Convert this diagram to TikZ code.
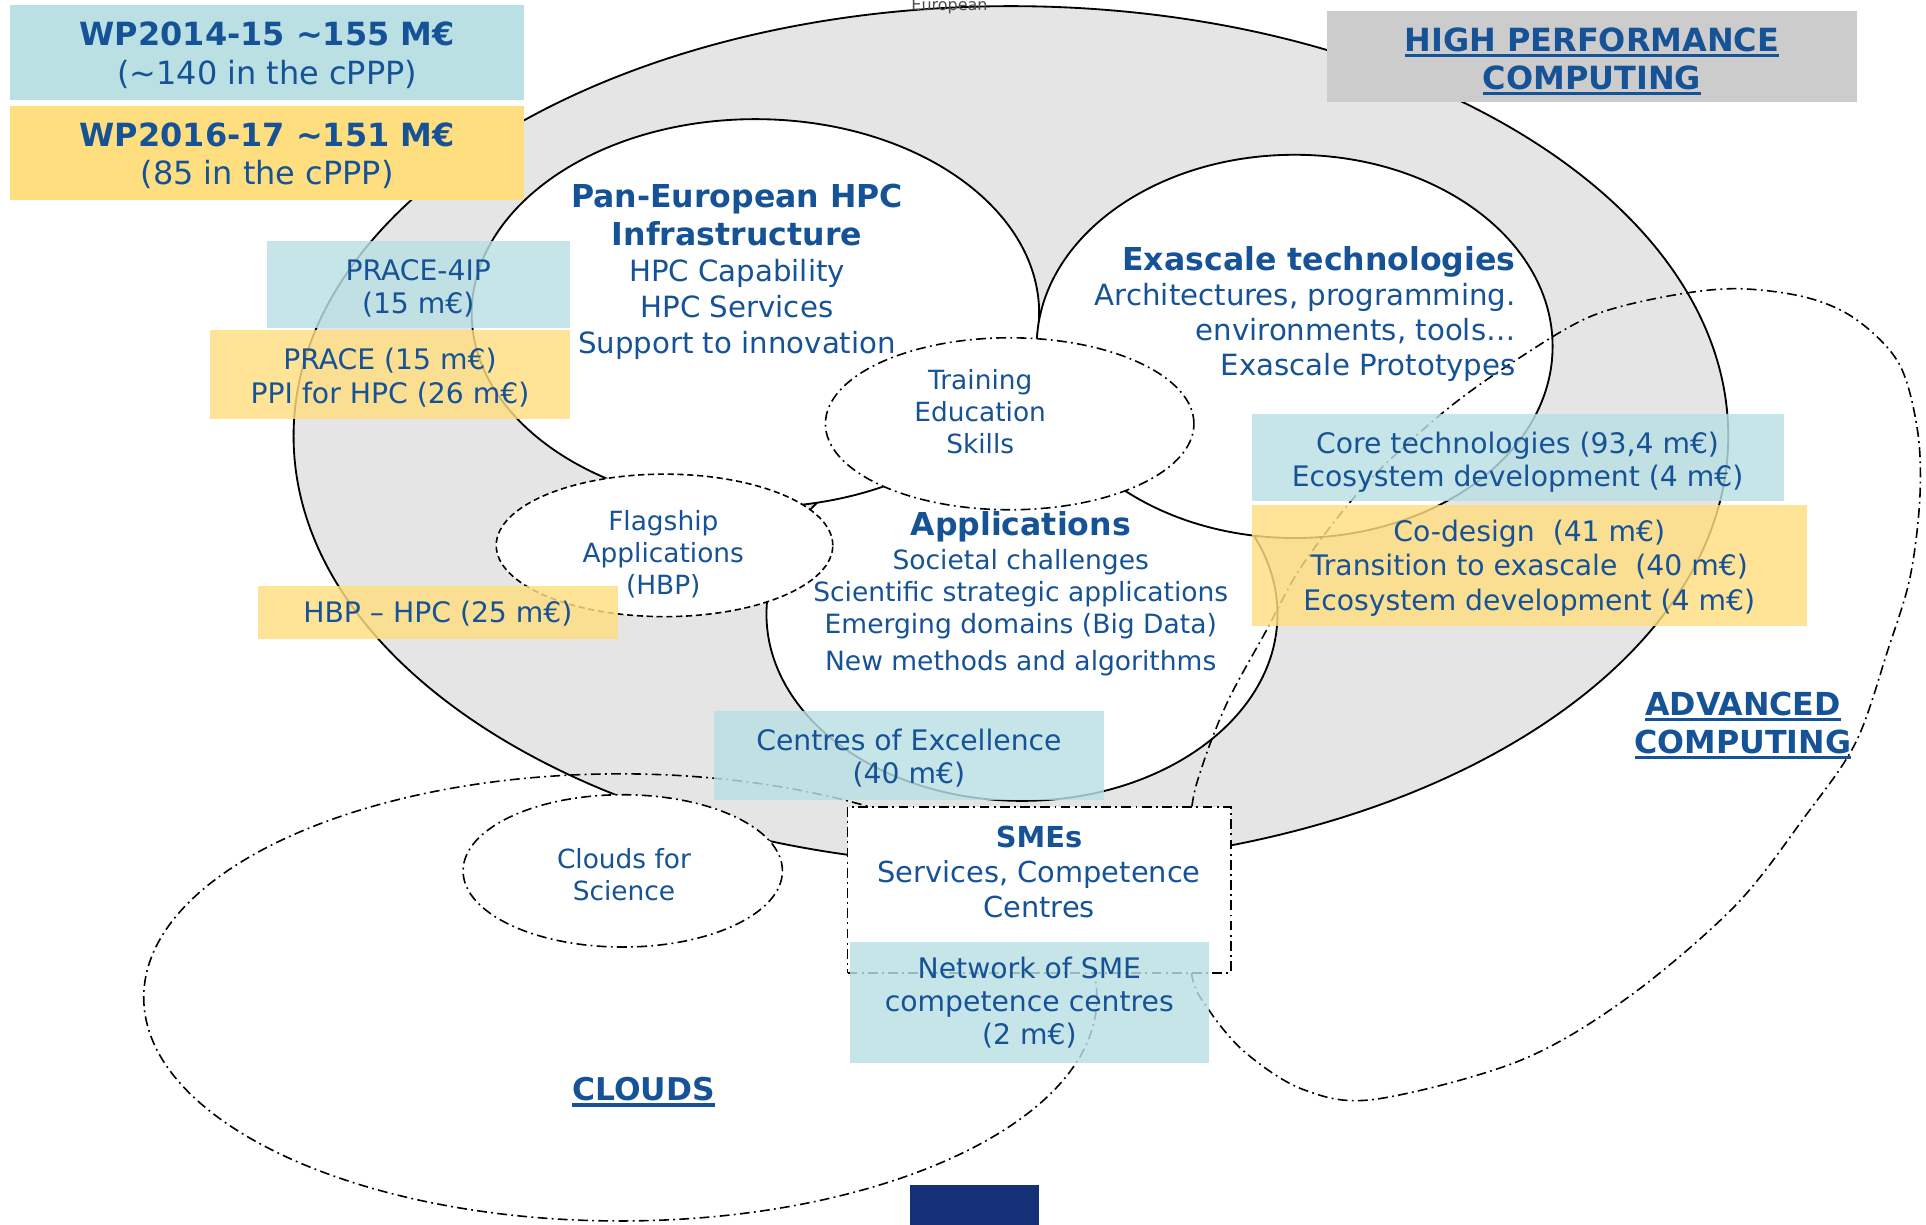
\documentclass[tikz,border=0pt]{standalone}
\usepackage{fontspec}
\setmainfont{DejaVu Sans}
\definecolor{txtblue}{RGB}{22,82,150}
\definecolor{cyanfill}{RGB}{186,224,228}
\definecolor{yellowfill}{RGB}{255,222,128}
\definecolor{hpcgray}{RGB}{229,229,229}
\definecolor{titlegray}{RGB}{204,204,204}
\definecolor{navyblock}{RGB}{20,48,118}
\newcommand{\ulin}[1]{\setbox0=\hbox{#1}\rlap{\vrule height -2pt depth 4.8pt width \wd0}\box0}

\begin{document}
\begin{tikzpicture}[x=1pt,y=-1pt,
    every node/.style={inner sep=0pt,align=center,text=txtblue},
    outline/.style={line width=1.5pt},
    ddline/.style={line width=1.3pt,dash pattern=on 8pt off 3.5pt on 1.5pt off 3.5pt},
    cyanbox/.style={fill=cyanfill},
    yellowbox/.style={fill=yellowfill},
    seethru/.style={fill opacity=0.82},
    bigbold/.style={font=\fontsize{25.7}{31}\selectfont\bfseries},
    bodytxt/.style={font=\fontsize{23.8}{29}\selectfont},
    smalltxt/.style={font=\fontsize{21.5}{26}\selectfont},
    boxtxt/.style={font=\fontsize{23}{27}\selectfont}]

          \fill[white] (0,0) rectangle (1568,997);
          \useasboundingbox (0,0) rectangle (1568,997);

          \coordinate (hpcc) at (823,355);
          \coordinate (applc) at (832,500);
          \coordinate (panc) at (615,255);
          \coordinate (exac) at (1054,282);
          \coordinate (trainc) at (822,345);
          \coordinate (flagc) at (541,444);
          \coordinate (cloudc) at (505,812);
          \coordinate (cfsc) at (507,709);

          % HPC ring and its three domains
          \draw[outline,fill=hpcgray] (hpcc) ellipse [x radius=584pt,y radius=350pt];
          \draw[outline,fill=white] (applc) ellipse [x radius=208pt,y radius=152pt];
          \draw[outline,fill=white] (panc) ellipse [x radius=231pt,y radius=158pt];
          \draw[outline,fill=white] (exac) ellipse [x radius=210pt,y radius=156pt];
          \draw[ddline,fill=white] (trainc) ellipse [x radius=150pt,y radius=70pt];
          \draw[line width=1.3pt,dash pattern=on 5pt off 3pt,fill=white] (flagc) ellipse [x radius=137pt,y radius=58pt];

          % clouds and advanced computing
          \draw[ddline] (cloudc) ellipse [x radius=388pt,y radius=182pt];
          \draw[ddline,fill=white] (cfsc) ellipse [x radius=130pt,y radius=62pt];
          \draw[ddline] plot[smooth cycle,tension=0.55] coordinates {(970,725) (970,792) (984,822)
                (1014,857) (1061,887) (1119,895) (1236,864) (1324,813) (1412,738) (1470,664)
                (1511,604) (1537,529) (1555,470) (1563,405) (1561,350) (1546,296) (1511,260)
                (1470,242) (1412,235) (1353,242) (1294,258) (1236,292) (1177,334) (1113,393)
                (1061,459) (1030,515) (1000,570) (980,620) (970,660)};

        \node[draw,ddline,fill=white,minimum width=312pt,minimum height=135pt] (smebox) at (846,724.5) {};

        \node[cyanbox,minimum width=419pt,minimum height=77pt] (wpold) at (217.5,42.5) {};
        \node[yellowbox,minimum width=419pt,minimum height=77pt] (wpnew) at (217.5,124.5) {};
        \node[fill=titlegray,minimum width=432pt,minimum height=74pt] (hpcbox) at (1296,46) {};
        \node[cyanbox,seethru,minimum width=247pt,minimum height=71pt] (prace4ip) at (340.5,231.5) {};
        \node[yellowbox,seethru,minimum width=293pt,minimum height=72pt] (prace) at (317.5,305) {};
        \node[yellowbox,seethru,minimum width=293pt,minimum height=43pt] (hbphpc) at (356.5,498.5) {};
        \node[cyanbox,seethru,minimum width=433pt,minimum height=71pt] (coretech) at (1235.5,372.5) {};
        \node[yellowbox,seethru,minimum width=452pt,minimum height=99pt] (codesign) at (1245,460.5) {};
        \node[cyanbox,seethru,minimum width=318pt,minimum height=72pt] (coe) at (740,615) {};
        \node[cyanbox,seethru,minimum width=292pt,minimum height=98pt] (smenet) at (838,816) {};

        \node[font=\fontsize{26}{32}\selectfont] (wpoldlbl) at ([yshift=-2.5pt]wpold.center)
              {\textbf{WP2014-15 \textasciitilde155 M€}\\(\textasciitilde140 in the cPPP)};
        \node[font=\fontsize{26}{31}\selectfont] (wpnewlbl) at ([yshift=-2pt]wpnew.center)
              {\textbf{WP2016-17 \textasciitilde151 M€}\\(85 in the cPPP)};
        \node[font=\fontsize{26}{31}\selectfont\bfseries] (hpclbl) at (1296,50) {\ulin{HIGH PERFORMANCE}\\\ulin{COMPUTING}};
        \node[boxtxt] (prace4iplbl) at ([yshift=-3.5pt]prace4ip.center) {PRACE-4IP\\(15 m€)};
        \node[boxtxt] (pracelbl) at ([yshift=-2.5pt]prace.center) {PRACE (15 m€)\\PPI for HPC (26 m€)};
        \node[boxtxt] (hbphpclbl) at ([yshift=-1pt]hbphpc.center) {HBP -- HPC (25 m€)};
        \node[boxtxt] (coretechlbl) at ([yshift=-4pt]coretech.center)
              {Core technologies (93,4 m€)\\Ecosystem development (4 m€)};
        \node[font=\fontsize{23}{28}\selectfont] (codesignlbl) at ([yshift=-2pt]codesign.center)
              {Co-design\ \ (41 m€)\\Transition to exascale\ \ (40 m€)\\Ecosystem development (4 m€)};
        \node[boxtxt] (coelbl) at ([yshift=-2pt]coe.center) {Centres of Excellence\\(40 m€)};
        \node[boxtxt] (smenetlbl) at (smenet.center) {Network of SME\\competence centres\\(2 m€)};

        \node[bigbold] (panhead) at (600,175) {Pan-European HPC\\Infrastructure};
        \node[bodytxt] (panbody) at (600,252) {HPC Capability\\HPC Services\\Support to innovation};
        \node[bigbold,anchor=east] (exahead) at (1234,213) {Exascale technologies};
        \node[font=\fontsize{23.8}{28.5}\selectfont,anchor=east,align=right] (exabody) at (1234,270.5)
              {Architectures, programming.\\environments, tools…\\Exascale Prototypes};
        \node[smalltxt] (trainlbl) at (798,335) {Training\\Education\\Skills};
        \node[smalltxt] (flaglbl) at (540,451.5) {Flagship\\Applications\\(HBP)};
        \node[bigbold] (applhead) at (831,429) {Applications};
        \node[font=\fontsize{21.6}{26}\selectfont] (applbody) at (831,499)
              {Societal challenges\\Scientific strategic applications\\Emerging domains (Big Data)\\[4pt]New methods and algorithms};
        \node[font=\fontsize{23.5}{28.5}\selectfont] (smelbl) at (846,709.5) {\textbf{SMEs}\\Services, Competence\\Centres};
        \node[smalltxt] (cfslbl) at (508,712) {Clouds for\\Science};
        \node[font=\fontsize{25.5}{31}\selectfont\bfseries] (cloudslbl) at (524,889) {\ulin{CLOUDS}};
        \node[font=\fontsize{25.8}{31}\selectfont\bfseries] (advlbl) at (1419,590.5) {\ulin{ADVANCED}\\\ulin{COMPUTING}};
        \node[anchor=base,text=black!70,font=\fontsize{13}{15}\selectfont] (eurlbl) at (773,8.5) {European};

        \fill[navyblock] (741,965) rectangle (846,1000);
        % \node at (793,980) {};
\end{tikzpicture}
\end{document}
